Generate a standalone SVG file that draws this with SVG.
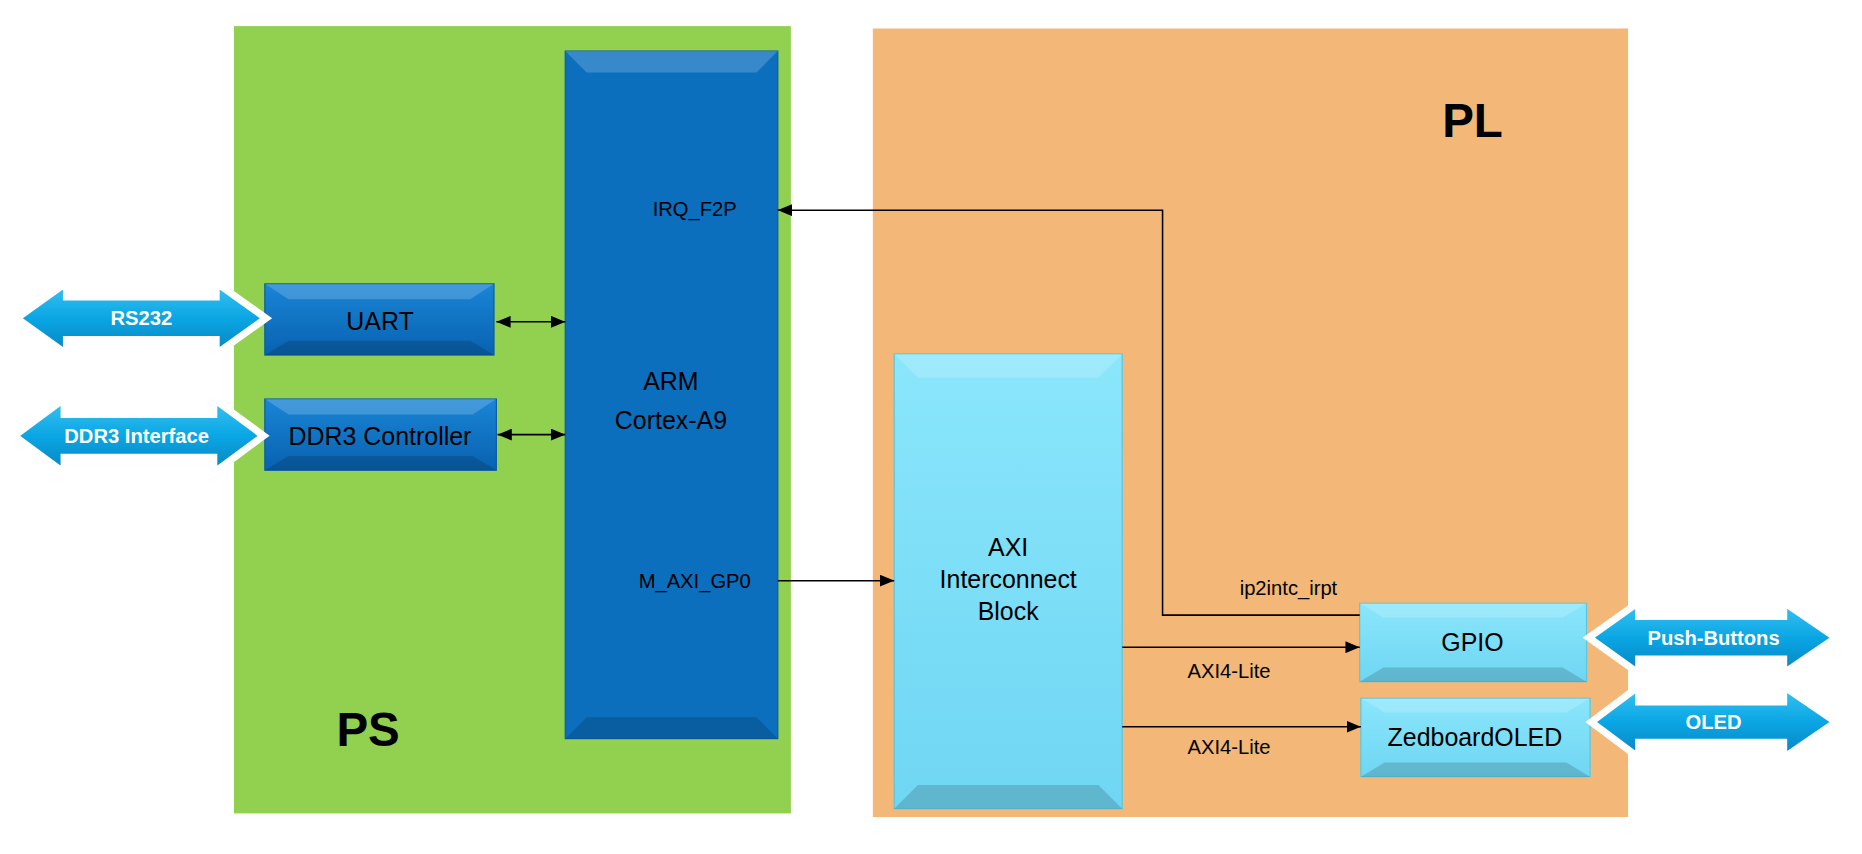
<svg xmlns="http://www.w3.org/2000/svg" width="1862" height="854" viewBox="0 0 1862 854">
<defs>
<linearGradient id="blu" x1="0" y1="0" x2="0" y2="1"><stop offset="0" stop-color="#1a85d6"/><stop offset="1" stop-color="#0862b0"/></linearGradient>
<linearGradient id="cy" x1="0" y1="0" x2="0" y2="1"><stop offset="0" stop-color="#8ae6fb"/><stop offset="1" stop-color="#6fd6f3"/></linearGradient>
<linearGradient id="arr" x1="0" y1="0" x2="0" y2="1"><stop offset="0" stop-color="#3bc4f2"/><stop offset="0.5" stop-color="#0aa6e4"/><stop offset="1" stop-color="#0784c0"/></linearGradient>
<marker id="ah" viewBox="0 0 12 10" refX="12" refY="5" markerUnits="userSpaceOnUse" markerWidth="12" markerHeight="10" orient="auto-start-reverse"><path d="M0,0 L12,5 L0,10 z" fill="#000"/></marker>
<style>
.t{font-family:"Liberation Sans",Arial,sans-serif;fill:#000;text-anchor:middle}
.w{font-family:"Liberation Sans",Arial,sans-serif;fill:#fff;font-weight:bold;text-anchor:middle;font-size:17px}
.ln{stroke:#000;stroke-width:1.3;fill:none}
.hi{fill:#fff;opacity:0.18}
.lo{fill:#000;opacity:0.15}
.da{fill:url(#arr);stroke:#fff;stroke-width:6;stroke-linejoin:miter}
</style>
</defs>
<g transform="scale(1.1875)">
<rect id="ps" x="197" y="22" width="469" height="663" fill="#92d050"/>
<rect id="pl" x="735" y="24" width="636" height="664" fill="#f3b777"/>
<text class="t" x="310" y="628" font-size="40" font-weight="bold">PS</text>
<text class="t" x="1240" y="115" font-size="40" font-weight="bold">PL</text>

<g id="arm">
<rect x="476" y="43" width="179" height="579" fill="#0b6fbe" stroke="#0a5ea3"/>
<polygon class="hi" points="476,43 655,43 637,61 494,61"/>
<polygon class="lo" points="476,622 655,622 637,604 494,604"/>
<text class="t" x="565" y="328" font-size="21">ARM</text>
<text class="t" x="565" y="361" font-size="21">Cortex-A9</text>
<text class="t" x="585" y="182" font-size="17">IRQ_F2P</text>
<text class="t" x="585" y="495" font-size="17">M_AXI_GP0</text>
</g>
<g id="uart">
<rect x="223" y="239" width="193" height="60" fill="url(#blu)" stroke="#0a5ea3"/>
<polygon class="hi" points="223,239 416,239 396,252 243,252"/>
<polygon class="lo" points="223,299 416,299 396,287 243,287"/>
<text class="t" x="320" y="278" font-size="21">UART</text>
</g>
<g id="ddr">
<rect x="223" y="336" width="195" height="60" fill="url(#blu)" stroke="#0a5ea3"/>
<polygon class="hi" points="223,336 418,336 398,349 243,349"/>
<polygon class="lo" points="223,396 418,396 398,384 243,384"/>
<text class="t" x="320" y="375" font-size="21">DDR3 Controller</text>
</g>
<g id="axi">
<rect x="753" y="298" width="192" height="383" fill="url(#cy)" stroke="#5cc5e0"/>
<polygon class="hi" points="753,298 945,298 925,318 773,318"/>
<polygon class="lo" points="753,681 945,681 925,661 773,661"/>
<text class="t" x="849" y="468" font-size="21">AXI</text>
<text class="t" x="849" y="495" font-size="21">Interconnect</text>
<text class="t" x="849" y="522" font-size="21">Block</text>
</g>
<g id="gpio">
<rect x="1145" y="508" width="191" height="66" fill="url(#cy)" stroke="#5cc5e0"/>
<polygon class="hi" points="1145,508 1336,508 1316,520 1165,520"/>
<polygon class="lo" points="1145,574 1336,574 1316,562 1165,562"/>
<text class="t" x="1240" y="548" font-size="21">GPIO</text>
</g>
<g id="oled">
<rect x="1146" y="588" width="193" height="66" fill="url(#cy)" stroke="#5cc5e0"/>
<polygon class="hi" points="1146,588 1339,588 1319,600 1166,600"/>
<polygon class="lo" points="1146,654 1339,654 1319,642 1166,642"/>
<text class="t" x="1242" y="628" font-size="21">ZedboardOLED</text>
</g>

<g id="rs232"><polygon class="da" points="14,268 56,238 56,250 182,250 182,238 224,268 182,298 182,286 56,286 56,298"/><text class="w" x="119" y="274">RS232</text></g>
<g id="ddrif"><polygon class="da" points="12,367 54,336 54,349 180,349 180,336 222,367 180,398 180,385 54,385 54,398"/><text class="w" x="115" y="373">DDR3 Interface</text></g>
<g id="pb"><polygon class="da" points="1338,537 1380,507 1380,519 1502,519 1502,507 1546,537 1502,567 1502,555 1380,555 1380,567"/><text class="w" x="1443" y="543">Push-Buttons</text></g>
<g id="oledif"><polygon class="da" points="1340,608 1380,578 1380,591 1502,591 1502,578 1546,608 1502,638 1502,625 1380,625 1380,638"/><text class="w" x="1443" y="614">OLED</text></g>

<g id="connectors">
<line class="ln" x1="418" y1="271" x2="476" y2="271" marker-start="url(#ah)" marker-end="url(#ah)"/>
<line class="ln" x1="419" y1="366" x2="476" y2="366" marker-start="url(#ah)" marker-end="url(#ah)"/>
<polyline class="ln" points="1145,518 979,518 979,177 655,177" marker-end="url(#ah)"/>
<line class="ln" x1="655" y1="489" x2="753" y2="489" marker-end="url(#ah)"/>
<line class="ln" x1="945" y1="545" x2="1145" y2="545" marker-end="url(#ah)"/>
<line class="ln" x1="945" y1="612" x2="1146" y2="612" marker-end="url(#ah)"/>
<text class="t" x="1085" y="501" font-size="17">ip2intc_irpt</text>
<text class="t" x="1035" y="571" font-size="17">AXI4-Lite</text>
<text class="t" x="1035" y="635" font-size="17">AXI4-Lite</text>
</g>
</g>
</svg>
